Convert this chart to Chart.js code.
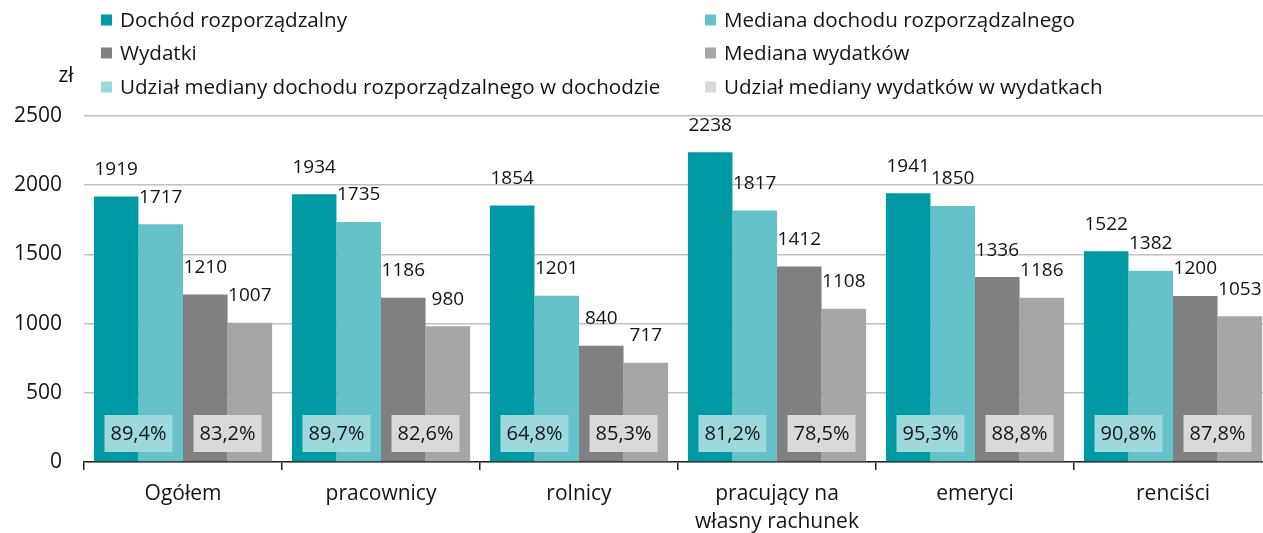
<!DOCTYPE html>
<html>
<head>
<meta charset="utf-8">
<script src="https://cdn.jsdelivr.net/npm/chart.js@4/dist/chart.umd.min.js"></script>
<style>
html, body { margin: 0; padding: 0; overflow: hidden; background: #fff; }
#wrap { width: 1272px; height: 533px; position: relative; }
</style>
</head>
<body>
<div id="wrap"><canvas id="chart"></canvas></div>
<script>
// data
const categories = ['Ogółem', 'pracownicy', 'rolnicy', ['pracujący na', 'własny rachunek'], 'emeryci', 'renciści'];
const income = [1919, 1934, 1854, 2238, 1941, 1522];
const incomeMedian = [1717, 1735, 1201, 1817, 1850, 1382];
const expenses = [1210, 1186, 840, 1412, 1336, 1200];
const expensesMedian = [1007, 980, 717, 1108, 1186, 1053];
const incomeShare = [89.4, 89.7, 64.8, 81.2, 95.3, 90.8];
const expensesShare = [83.2, 82.6, 85.3, 78.5, 88.8, 87.8];

const teal = '#009aa4';
const tealLight = '#66c2c9';
const tealBox = '#9dd8dc';
const grayDark = '#808080';
const grayMid = '#a6a6a6';
const grayBox = '#d9d9d9';
const textColor = '#141414';
const fontFamily = "'Open Sans', sans-serif";

const legendItems = [
    { label: 'Dochód rozporządzalny', color: teal },
    { label: 'Mediana dochodu rozporządzalnego', color: tealLight },
    { label: 'Wydatki', color: grayDark },
    { label: 'Mediana wydatków', color: grayMid },
    { label: 'Udział mediany dochodu rozporządzalnego w dochodzie', color: tealBox },
    { label: 'Udział mediany wydatków w wydatkach', color: grayBox }
];

function fmtShare(v) {
    return v.toFixed(1).replace('.', ',') + '%';
}

const labelsPlugin = {
    id: 'labels',
    afterDatasetsDraw(chart) {
        const ctx = chart.ctx;
        ctx.save();
        ctx.fillStyle = textColor;
        ctx.font = '19px ' + fontFamily;
        ctx.textAlign = 'center';
        ctx.textBaseline = 'middle';
        chart.data.datasets.forEach((ds, di) => {
            chart.getDatasetMeta(di).data.forEach((bar, i) => {
                ctx.fillText(String(ds.data[i]), bar.x, bar.y - 27);
            });
        });

        // share boxes between the bar pairs
        const bottom = chart.chartArea.bottom;
        const m0 = chart.getDatasetMeta(0).data;
        const m1 = chart.getDatasetMeta(1).data;
        const m2 = chart.getDatasetMeta(2).data;
        const m3 = chart.getDatasetMeta(3).data;
        ctx.font = '20px ' + fontFamily;
        const drawBox = (cx, text, color) => {
            const w = 68, h = 37, cy = bottom - 28.5;
            ctx.fillStyle = color;
            ctx.fillRect(cx - w / 2, cy - h / 2, w, h);
            ctx.fillStyle = textColor;
            ctx.fillText(text, cx, cy + 1);
        };
        for (let i = 0; i < categories.length; i++) {
            drawBox((m0[i].x + m1[i].x) / 2, fmtShare(incomeShare[i]), tealBox);
            drawBox((m2[i].x + m3[i].x) / 2, fmtShare(expensesShare[i]), grayBox);
        }
        ctx.restore();
    },
    afterDraw(chart) {
        const ctx = chart.ctx;
        ctx.save();
        ctx.font = '20.6px ' + fontFamily;
        ctx.textBaseline = 'middle';
        const colX = [101, 705];
        const rowY = [20, 53, 87];
        legendItems.forEach((item, k) => {
            const x = colX[k % 2], y = rowY[Math.floor(k / 2)];
            ctx.fillStyle = item.color;
            ctx.fillRect(x, y - 5.5, 11, 11);
            ctx.fillStyle = textColor;
            ctx.textAlign = 'left';
            ctx.fillText(item.label, x + 19, y + 1);
        });
        ctx.textAlign = 'center';
        ctx.font = '21px ' + fontFamily;
        ctx.fillText('zł', 66, 76);
        ctx.restore();
    }
};

new Chart(document.getElementById('chart'), {
    type: 'bar',
    data: {
        labels: categories,
        datasets: [
            { label: legendItems[0].label, data: income, backgroundColor: teal },
            { label: legendItems[1].label, data: incomeMedian, backgroundColor: tealLight },
            { label: legendItems[2].label, data: expenses, backgroundColor: grayDark },
            { label: legendItems[3].label, data: expensesMedian, backgroundColor: grayMid }
        ]
    },
    options: {
        responsive: true,
        maintainAspectRatio: false,
        animation: false,
        layout: { padding: { top: 116, left: 0, right: 0, bottom: 0 } },
        categoryPercentage: 0.9,
        barPercentage: 1.0,
        plugins: {
            legend: { display: false },
            tooltip: { enabled: false }
        },
        scales: {
            x: {
                afterFit(scale) { scale.height = 71; },
                grid: {
                    display: true,
                    drawOnChartArea: false,
                    drawTicks: true,
                    tickLength: 8,
                    offset: true,
                    color: '#222',
                    lineWidth: 1.5
                },
                border: { display: true, color: '#222', width: 1.5 },
                ticks: {
                    color: textColor,
                    padding: 10,
                    font: { family: fontFamily, size: 21, lineHeight: 1.33 },
                    maxRotation: 0,
                    autoSkip: false
                }
            },
            y: {
                min: 0,
                max: 2500,
                afterFit(scale) { scale.width = 84; },
                grid: { color: '#c0c0c0', lineWidth: 1.5, drawTicks: false },
                border: { display: false },
                ticks: {
                    stepSize: 500,
                    color: textColor,
                    padding: 22,
                    font: { family: fontFamily, size: 21 },
                    callback: (v) => String(v)
                }
            }
        }
    },
    plugins: [labelsPlugin]
});
</script>
</body>
</html>
